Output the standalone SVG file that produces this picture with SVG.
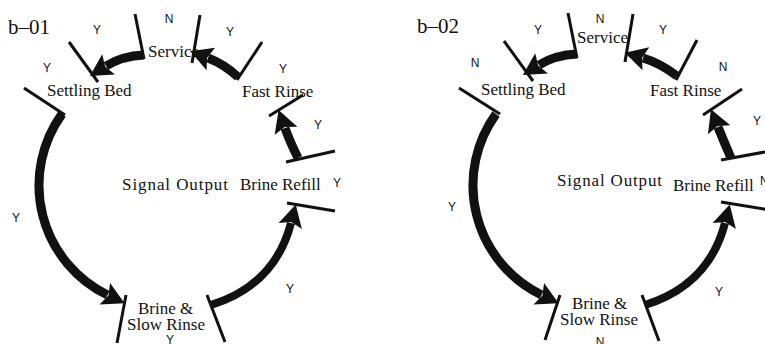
<svg xmlns="http://www.w3.org/2000/svg" width="765" height="344" viewBox="0 0 765 344">
  <style>
    .lbl { font-family: "Liberation Serif", "Times New Roman", serif; font-size: 17px; fill: #111; }
    .ttl { font-family: "Liberation Serif", "Times New Roman", serif; font-size: 21px; fill: #111; }
    .yn { font-family: "Liberation Sans", Arial, sans-serif; font-size: 12px; fill: #111; text-anchor: middle; }
    .tick { stroke: #111; stroke-width: 3; fill: none; stroke-linecap: butt; }
    .arr { stroke: #111; fill: none; stroke-linecap: butt; marker-end: url(#ah); }
  </style>
  <defs>
    <marker id="ah" markerUnits="userSpaceOnUse" markerWidth="30" markerHeight="30" viewBox="-5 -15 30 30" refX="0" refY="0" orient="auto" overflow="visible">
      <path d="M-3,-12 L19,0 L-3,12 L1,0 z" fill="#111"/>
    </marker>
  </defs>
  <rect width="765" height="344" fill="#fff"/>

  <!-- Diagram b-01 -->
  <g id="d1-title"><text class="ttl" x="8" y="34">b–01</text></g>
  <g id="d1-service">
    <text class="lbl" x="148" y="57" font-size="16">Service</text>
    <line class="tick" x1="135" y1="14" x2="144" y2="59"/>
    <line class="tick" x1="200" y1="15" x2="192" y2="63"/>
  </g>
  <g id="d1-settling">
    <text class="lbl" x="47" y="96">Settling Bed</text>
    <line class="tick" x1="69" y1="42" x2="98" y2="82"/>
    <line class="tick" x1="24" y1="88" x2="65" y2="115"/>
  </g>
  <g id="d1-fastrinse">
    <text class="lbl" x="242" y="97">Fast Rinse</text>
    <line class="tick" x1="262" y1="42" x2="237" y2="80"/>
    <line class="tick" x1="269" y1="116" x2="303" y2="95"/>
  </g>
  <g id="d1-brinerefill">
    <text class="lbl" x="240" y="190">Brine Refill</text>
    <line class="tick" x1="286" y1="162" x2="335" y2="151"/>
    <line class="tick" x1="287" y1="203" x2="335" y2="211"/>
  </g>
  <g id="d1-brineslow">
    <text class="lbl" x="138" y="314">Brine &amp;</text>
    <text class="lbl" x="127" y="330">Slow Rinse</text>
    <line class="tick" x1="126" y1="295" x2="117" y2="343"/>
    <line class="tick" x1="207" y1="295" x2="225" y2="342"/>
  </g>
  <g id="d1-signal"><text class="lbl" x="122" y="190" font-size="18" textLength="106" lengthAdjust="spacing">Signal Output</text></g>

  <!-- Diagram b-02 -->
  <g id="d2-title"><text class="ttl" x="417" y="33">b–02</text></g>
  <g id="d2-service">
    <text class="lbl" x="577" y="43" font-size="16">Service</text>
    <line class="tick" x1="568" y1="13" x2="577" y2="58"/>
    <line class="tick" x1="633" y1="14" x2="625" y2="62"/>
  </g>
  <g id="d2-settling">
    <text class="lbl" x="481" y="95">Settling Bed</text>
    <line class="tick" x1="504" y1="41" x2="533" y2="81"/>
    <line class="tick" x1="459" y1="88" x2="500" y2="114"/>
  </g>
  <g id="d2-fastrinse">
    <text class="lbl" x="650" y="96">Fast Rinse</text>
    <line class="tick" x1="697" y1="40" x2="676" y2="80"/>
    <line class="tick" x1="703" y1="115" x2="742" y2="89"/>
  </g>
  <g id="d2-brinerefill">
    <text class="lbl" x="673" y="191">Brine Refill</text>
    <line class="tick" x1="721" y1="160" x2="770" y2="151"/>
    <line class="tick" x1="721" y1="202" x2="770" y2="210"/>
  </g>
  <g id="d2-brineslow">
    <text class="lbl" x="572" y="309">Brine &amp;</text>
    <text class="lbl" x="560" y="325">Slow Rinse</text>
    <line class="tick" x1="560" y1="295" x2="545" y2="340"/>
    <line class="tick" x1="642" y1="295" x2="659" y2="341"/>
  </g>
  <g id="d2-signal"><text class="lbl" x="557" y="186" font-size="18" textLength="105" lengthAdjust="spacing">Signal Output</text></g>

  <!-- Connectors -->
  <g id="connectors">
    <path class="arr" stroke-width="9" d="M144,55 Q122,56 106,66"/>
    <path class="arr" stroke-width="9" d="M238,77 Q224,64 208,58"/>
    <path class="arr" stroke-width="9" d="M298,158 Q290,142 285,128"/>
    <path class="arr" stroke-width="9" d="M62,114 A122,122 0 0,0 107.5,295"/>
    <path class="arr" stroke-width="8" d="M211,305 Q275,285 291,223"/>

    <path class="arr" stroke-width="9" d="M577,54 Q555,55 539,65"/>
    <path class="arr" stroke-width="9" d="M677,76 Q660,63 643,58"/>
    <path class="arr" stroke-width="9" d="M731,158 Q724,142 718,127"/>
    <path class="arr" stroke-width="9" d="M496,114 A122,122 0 0,0 541.5,295"/>
    <path class="arr" stroke-width="8" d="M645,305 Q709,285 725,223"/>
  </g>

  <!-- Connector labels -->
  <g id="labels">
    <text class="yn" x="169" y="23">N</text>
    <text class="yn" x="97" y="34">Y</text>
    <text class="yn" x="47" y="72">Y</text>
    <text class="yn" x="230" y="36">Y</text>
    <text class="yn" x="283" y="73">Y</text>
    <text class="yn" x="318" y="129">Y</text>
    <text class="yn" x="337" y="187">Y</text>
    <text class="yn" x="16" y="222">Y</text>
    <text class="yn" x="290" y="293">Y</text>
    <text class="yn" x="170" y="344">Y</text>

    <text class="yn" x="600" y="23">N</text>
    <text class="yn" x="538" y="34">Y</text>
    <text class="yn" x="663" y="34">Y</text>
    <text class="yn" x="475" y="67">N</text>
    <text class="yn" x="723" y="71">N</text>
    <text class="yn" x="757" y="125">Y</text>
    <text class="yn" x="760" y="185" style="text-anchor:start">N</text>
    <text class="yn" x="452" y="211">Y</text>
    <text class="yn" x="719" y="296">Y</text>
    <text class="yn" x="600" y="346">N</text>
  </g>
</svg>
